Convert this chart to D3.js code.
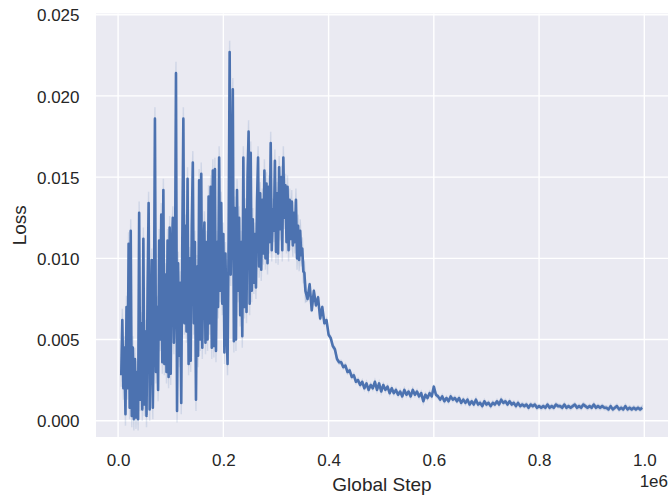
<!DOCTYPE html>
<html>
<head>
<meta charset="utf-8">
<script src="https://cdn.jsdelivr.net/npm/d3@7"></script>
<style>
  html, body { margin: 0; padding: 0; background: #ffffff; }
  svg { display: block; }
  text { font-family: "Liberation Sans", Arial, Helvetica, sans-serif; fill: #262626; }
</style>
</head>
<body>
<svg id="chart" width="668" height="496"></svg>
<script>
// Training loss logged every 2000 steps during the first phase,
// then every 4000 steps for the rest of the run.
const earlyStart = 6000, earlyEvery = 2000;
const earlyLoss = [
  0.0028, 0.0062, 0.0020, 0.0045, 0.0004, 0.0070, 0.0020, 0.0109, 0.0008, 0.0117,
  0.0003, 0.0045, 0.0001, 0.0038, 0.0002, 0.0030, 0.0001, 0.0128, 0.0013, 0.0060,
  0.0007, 0.0112, 0.0010, 0.0055, 0.0003, 0.0080, 0.0134, 0.0007, 0.0050, 0.0099,
  0.0008, 0.0060, 0.0186, 0.0030, 0.0070, 0.0019, 0.0111, 0.0050, 0.0127, 0.0036,
  0.0142, 0.0035, 0.0090, 0.0030, 0.0111, 0.0027, 0.0119, 0.0029, 0.0105, 0.0125,
  0.0048, 0.0080, 0.0214, 0.0006, 0.0097, 0.0040, 0.0085, 0.0011, 0.0110, 0.0186,
  0.0060, 0.0120, 0.0055, 0.0149, 0.0035, 0.0100, 0.0037, 0.0120, 0.0159, 0.0060,
  0.0110, 0.0013, 0.0095, 0.0040, 0.0148, 0.0050, 0.0152, 0.0045, 0.0100, 0.0122,
  0.0048, 0.0110, 0.0050, 0.0138, 0.0060, 0.0144, 0.0045, 0.0154, 0.0046, 0.0155,
  0.0043, 0.0110, 0.0070, 0.0162, 0.0080, 0.0134, 0.0072, 0.0115, 0.0042, 0.0103,
  0.0060, 0.0035, 0.0110, 0.0227, 0.0090, 0.0140, 0.0204, 0.0049, 0.0131, 0.0050,
  0.0142, 0.0080, 0.0125, 0.0065, 0.0110, 0.0052, 0.0162, 0.0070, 0.0130, 0.0067,
  0.0150, 0.0178, 0.0072, 0.0165, 0.0080, 0.0124, 0.0085, 0.0115, 0.0082, 0.0135,
  0.0162, 0.0095, 0.0140, 0.0093, 0.0136, 0.0103, 0.0154, 0.0100, 0.0146, 0.0097,
  0.0144, 0.0110, 0.0171, 0.0105, 0.0130, 0.0117, 0.0160, 0.0104, 0.0140, 0.0103,
  0.0156, 0.0118, 0.0150, 0.0105, 0.0162, 0.0125, 0.0145, 0.0110, 0.0144, 0.0105,
  0.0136, 0.0112, 0.0135, 0.0108, 0.0128, 0.0110, 0.0136, 0.0100, 0.0120, 0.0099,
  0.0117, 0.0102, 0.0106, 0.0092, 0.0091, 0.0080
];

const lateStart = 360000, lateEvery = 4000;
const lateLoss = [
  0.0075, 0.0084, 0.0068, 0.0080, 0.0071, 0.0076, 0.0063, 0.0070, 0.0060, 0.0062,
  0.0053, 0.0051, 0.0046, 0.0044, 0.0038, 0.0036, 0.0036, 0.0033, 0.0034, 0.0030,
  0.0031, 0.0027, 0.0028, 0.0024, 0.0025, 0.0022, 0.0024, 0.0020, 0.0023, 0.0019,
  0.0022, 0.0020, 0.0024, 0.0019, 0.0023, 0.0018, 0.0022, 0.0019, 0.0021, 0.0017,
  0.0020, 0.0017, 0.0019, 0.0016, 0.0018, 0.0015, 0.0019, 0.0016, 0.0018, 0.0015,
  0.0019, 0.0016, 0.0018, 0.0015, 0.0017, 0.0012, 0.0016, 0.0014, 0.0017, 0.0015,
  0.0021, 0.0016, 0.0015, 0.0013, 0.0015, 0.0012, 0.0014, 0.0012, 0.0015, 0.0013,
  0.0014, 0.0012, 0.0014, 0.0011, 0.0013, 0.0011, 0.0013, 0.0010, 0.0012, 0.0010,
  0.0013, 0.0010, 0.0011, 0.0009, 0.0012, 0.0010, 0.0011, 0.0009, 0.0011, 0.0010,
  0.0012, 0.0010, 0.0013, 0.0011, 0.0012, 0.0010, 0.0012, 0.0010, 0.0011, 0.0009,
  0.0011, 0.0009, 0.0010, 0.0009, 0.0010, 0.0008, 0.0010, 0.0009, 0.0010, 0.0008,
  0.0009, 0.0008, 0.0009, 0.0008, 0.0010, 0.0008, 0.0009, 0.0008, 0.0010, 0.0009,
  0.0009, 0.0008, 0.0010, 0.0008, 0.0009, 0.0008, 0.0009, 0.0010, 0.0008, 0.0009,
  0.0008, 0.0010, 0.0009, 0.0008, 0.0009, 0.0008, 0.0010, 0.0008, 0.0009, 0.0008,
  0.0009, 0.0008, 0.0008, 0.0007, 0.0009, 0.0007, 0.0008, 0.0009, 0.0007, 0.0008,
  0.0007, 0.0009, 0.0007, 0.0008, 0.0007, 0.0008, 0.0007, 0.0008, 0.0007, 0.0008
];

// Half-width of the 95% confidence band across runs, per phase
const earlyCiHalf = 0.0007;
const lateCiHalf = 0.00012;

const xTickValues = [0, 200000, 400000, 600000, 800000, 1000000];
const xTickLabels = ["0.0", "0.2", "0.4", "0.6", "0.8", "1.0"];
const yTickValues = [0, 0.005, 0.010, 0.015, 0.020, 0.025];
const yTickLabels = ["0.000", "0.005", "0.010", "0.015", "0.020", "0.025"];

const xLabel = "Global Step";
const yLabel = "Loss";
const xOffsetText = "1e6";

// Build the series
const series = [];
earlyLoss.forEach((v, i) => series.push({ step: earlyStart + i * earlyEvery, loss: v, ci: earlyCiHalf }));
lateLoss.forEach((v, i) => series.push({ step: lateStart + i * lateEvery, loss: v, ci: lateCiHalf }));

// Layout
const plot = { left: 96, right: 668, top: 13.5, bottom: 437 };
const svg = d3.select("#chart");

const x = d3.scaleLinear().domain([-42000, 1045000]).range([plot.left, plot.right]);
const y = d3.scaleLinear().domain([-0.001, 0.025]).range([plot.bottom, 14.7]);

// Axes background
svg.append("rect")
  .attr("x", plot.left).attr("y", plot.top)
  .attr("width", plot.right - plot.left).attr("height", plot.bottom - plot.top)
  .attr("fill", "#eaeaf2");

// Grid
const grid = svg.append("g").attr("stroke", "#ffffff").attr("stroke-width", 1.4);
grid.selectAll("line.gx").data(xTickValues).join("line")
  .attr("class", "gx")
  .attr("x1", d => x(d)).attr("x2", d => x(d))
  .attr("y1", plot.top).attr("y2", plot.bottom);
grid.selectAll("line.gy").data(yTickValues).join("line")
  .attr("class", "gy")
  .attr("x1", plot.left).attr("x2", plot.right)
  .attr("y1", d => y(d)).attr("y2", d => y(d));

// Confidence band
const band = d3.area()
  .x(d => x(d.step))
  .y0(d => y(d.loss - d.ci))
  .y1(d => y(d.loss + d.ci));
svg.append("path")
  .datum(series)
  .attr("d", band)
  .attr("fill", "#4c72b0")
  .attr("fill-opacity", 0.2)
  .attr("stroke", "#4c72b0")
  .attr("stroke-opacity", 0.15)
  .attr("stroke-width", 1.5);

// Mean line
const line = d3.line().x(d => x(d.step)).y(d => y(d.loss));
svg.append("path")
  .datum(series)
  .attr("d", line)
  .attr("fill", "none")
  .attr("stroke", "#4c72b0")
  .attr("stroke-width", 2.6)
  .attr("stroke-linejoin", "round");

// X axis labels
const xAxis = d3.axisBottom(x)
  .tickValues(xTickValues)
  .tickFormat((d, i) => xTickLabels[i])
  .tickSize(0)
  .tickPadding(0);
const gx = svg.append("g").attr("transform", `translate(0,${plot.bottom})`).call(xAxis);
gx.select(".domain").remove();
gx.selectAll("text")
  .attr("y", 29).attr("dy", null)
  .style("font-size", "17px")
  .style("fill", "#262626")
  .style("font-family", "'Liberation Sans', Arial, sans-serif");

// Y axis labels
const yAxis = d3.axisLeft(y)
  .tickValues(yTickValues)
  .tickFormat((d, i) => yTickLabels[i])
  .tickSize(0)
  .tickPadding(0);
const gy = svg.append("g").attr("transform", `translate(79.5,0)`).call(yAxis);
gy.select(".domain").remove();
gy.selectAll("text")
  .attr("x", 0).attr("dy", "0.36em")
  .style("font-size", "17px")
  .style("fill", "#262626")
  .style("font-family", "'Liberation Sans', Arial, sans-serif");

// Axis titles
svg.append("text")
  .attr("x", (plot.left + plot.right) / 2)
  .attr("y", 490.5)
  .attr("text-anchor", "middle")
  .style("font-size", "19px")
  .text(xLabel);

svg.append("text")
  .attr("transform", `translate(26,${(plot.top + plot.bottom) / 2}) rotate(-90)`)
  .attr("text-anchor", "middle")
  .style("font-size", "19px")
  .text(yLabel);

svg.append("text")
  .attr("x", 668)
  .attr("y", 487)
  .attr("text-anchor", "end")
  .style("font-size", "17px")
  .text(xOffsetText);
</script>
</body>
</html>
